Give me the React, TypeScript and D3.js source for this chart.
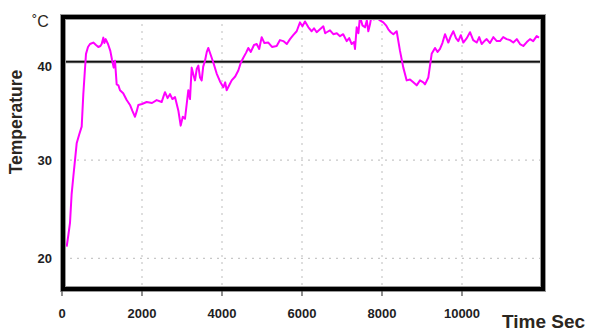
import React from "react";
import * as d3 from "d3";

// time (s) and temperature (°C)
const timeSec = [
  117, 160, 200, 240, 283, 330, 367, 430, 492, 533, 570, 600, 650, 700, 783, 850, 908, 960, 992, 1033, 1060, 1092,
  1150, 1208, 1250, 1292, 1325, 1367, 1410, 1450, 1530, 1617, 1700, 1760, 1825, 1870, 1908, 2000, 2117, 2250, 2367,
  2492, 2540, 2575, 2640, 2700, 2760, 2825, 2908, 2967, 3020, 3075, 3158, 3200, 3242, 3290, 3325, 3370, 3408, 3450,
  3492, 3530, 3575, 3620, 3658, 3742, 3800, 3867, 3950, 4033, 4080, 4117, 4180, 4242, 4330, 4408, 4470, 4533, 4600,
  4658, 4720, 4800, 4867, 4930, 4992, 5060, 5158, 5250, 5367, 5450, 5533, 5620, 5700, 5780, 5867, 5950, 6010, 6075,
  6160, 6242, 6300, 6367, 6450, 6533, 6580, 6617, 6700, 6783, 6870, 6950, 7030, 7117, 7180, 7242, 7300, 7325, 7367,
  7410, 7450, 7510, 7575, 7620, 7658, 7700, 7742, 7800, 7867, 7950, 8033, 8100, 8158, 8220, 8283, 8367, 8450, 8533,
  8617, 8700, 8783, 8867, 8950, 9033, 9075, 9158, 9242, 9325, 9390, 9450, 9510, 9575, 9658, 9720, 9783, 9850, 9908,
  9970, 10033, 10120, 10200, 10280, 10367, 10430, 10492, 10560, 10617, 10700, 10783, 10870, 10950, 11030, 11117,
  11200, 11283, 11370, 11450, 11533, 11620, 11700, 11780, 11867, 11925,
];
const tempC = [
  21.2, 22.4, 23.6, 26.5, 28.3, 30.2, 31.7, 32.6, 33.4, 36.7, 39.0, 40.8, 41.5, 41.8, 41.95, 41.7, 41.5, 41.6, 41.8,
  42.45, 41.9, 42.3, 41.8, 41.1, 40.2, 39.4, 40.1, 37.7, 37.6, 37.1, 36.8, 36.1, 35.6, 35.0, 34.4, 35.0, 35.6, 35.7,
  35.9, 35.8, 36.1, 35.9, 36.5, 36.9, 36.3, 36.7, 36.2, 36.4, 35.05, 33.5, 34.4, 34.2, 37.1, 36.2, 39.4, 38.6, 38.1,
  39.3, 39.6, 38.4, 38.1, 39.5, 40.1, 41.0, 41.4, 40.4, 39.7, 38.8, 38.0, 37.4, 37.9, 37.1, 37.6, 38.1, 38.5, 39.1,
  39.9, 40.4, 40.9, 41.4, 41.0, 41.7, 41.8, 41.3, 42.5, 41.9, 41.95, 41.5, 41.6, 42.2, 42.1, 41.8, 42.3, 42.7, 43.1,
  44.0, 43.6, 44.1, 43.5, 43.1, 43.4, 43.0, 43.3, 43.6, 42.9, 43.0, 43.2, 42.8, 42.9, 42.6, 42.8, 42.1, 42.4, 41.8,
  42.0, 41.3, 43.5, 42.9, 44.6, 43.7, 43.5, 44.2, 43.1, 43.8, 44.8, 44.3, 44.5, 44.2, 44.0, 43.7, 43.3, 43.0, 42.8,
  43.1, 41.1, 39.4, 38.1, 38.2, 37.9, 37.6, 38.1, 37.9, 37.7, 38.4, 40.8, 41.4, 41.0, 41.3, 41.9, 42.8, 41.95, 42.6,
  43.1, 42.4, 42.1, 42.7, 41.95, 42.4, 43.0, 42.2, 41.95, 42.5, 41.8, 42.1, 42.3, 41.9, 42.5, 42.1, 42.1, 42.5, 42.3,
  42.2, 41.95, 42.3, 41.8, 41.6, 42.0, 42.3, 42.1, 42.6, 42.45,
];

const xTicks = [0, 2000, 4000, 6000, 8000, 10000];
const yTicks = [20, 30, 40];
const threshold = 40;

export default function App() {
  const W = 590;
  const H = 333;
  const left = 63;
  const right = 543;
  const top = 17;
  const bottom = 289;

  const x = d3.scaleLinear().domain([0, 12000]).range([62, 542]);
  const y = d3.scaleLinear().domain([16.88, 44.55]).range([bottom, top]);

  const pts = timeSec.map((t, i) => [t, tempC[i]] as [number, number]);
  const line = d3
    .line<[number, number]>()
    .x((d) => x(d[0]))
    .y((d) => y(d[1]));

  const ink = "#1e1e24";

  return (
    <svg
      width={W}
      height={H}
      style={{ position: "absolute", left: 0, top: 0, background: "#fff" }}
      fontFamily="'Liberation Sans', Arial, sans-serif"
    >
      <defs>
        <clipPath id="plot">
          <rect x={left} y={top} width={right - left} height={bottom - top} />
        </clipPath>
      </defs>

      {/* dotted grid */}
      <g stroke="#c8c8c8" strokeWidth={1.2} strokeDasharray="2,5">
        {xTicks
          .filter((t) => t > 0)
          .map((t) => (
            <line key={t} x1={x(t)} x2={x(t)} y1={top} y2={bottom} />
          ))}
        {yTicks
          .filter((v) => v !== threshold)
          .map((v) => (
            <line key={v} x1={left} x2={right} y1={y(v)} y2={y(v)} />
          ))}
      </g>

      {/* threshold line */}
      <line x1={left} x2={right} y1={y(threshold)} y2={y(threshold)} stroke="#888" strokeWidth={3} />
      <line x1={left} x2={right} y1={y(threshold)} y2={y(threshold)} stroke="#111" strokeWidth={1.5} />

      <path
        d={line(pts) ?? ""}
        fill="none"
        stroke="#ff00ff"
        strokeWidth={2}
        strokeLinejoin="round"
        clipPath="url(#plot)"
      />

      {/* frame */}
      <rect x={left} y={top} width={right - left} height={bottom - top} fill="none" stroke="#999" strokeWidth={6} />
      <rect x={left} y={top} width={right - left} height={bottom - top} fill="none" stroke="#000" strokeWidth={4} />

      {/* x ticks */}
      <g fill={ink} fontSize={13} fontWeight="bold" textAnchor="middle">
        {xTicks.map((t) => (
          <g key={t}>
            <line x1={x(t)} x2={x(t)} y1={bottom + 2} y2={bottom + 7} stroke="#444" strokeWidth={1.2} />
            <text x={x(t)} y={318}>
              {t}
            </text>
          </g>
        ))}
      </g>

      {/* y ticks */}
      <g fill={ink} fontSize={13} fontWeight="bold" textAnchor="end">
        {yTicks.map((v) => (
          <text key={v} x={52} y={y(v) + (v === threshold ? 9 : 5)}>
            {v}
          </text>
        ))}
      </g>

      <text
        transform="translate(22,122) rotate(-90)"
        textAnchor="middle"
        fontSize={17.5}
        fontWeight="bold"
        fill="#2b2620"
      >
        Temperature
      </text>
      <text x={32} y={27} fontSize={16} fill="#2b2620">
        ˚C
      </text>
      <text x={502} y={328} fontSize={19} fontWeight="bold" fill="#2b2620">
        Time Sec
      </text>
    </svg>
  );
}
